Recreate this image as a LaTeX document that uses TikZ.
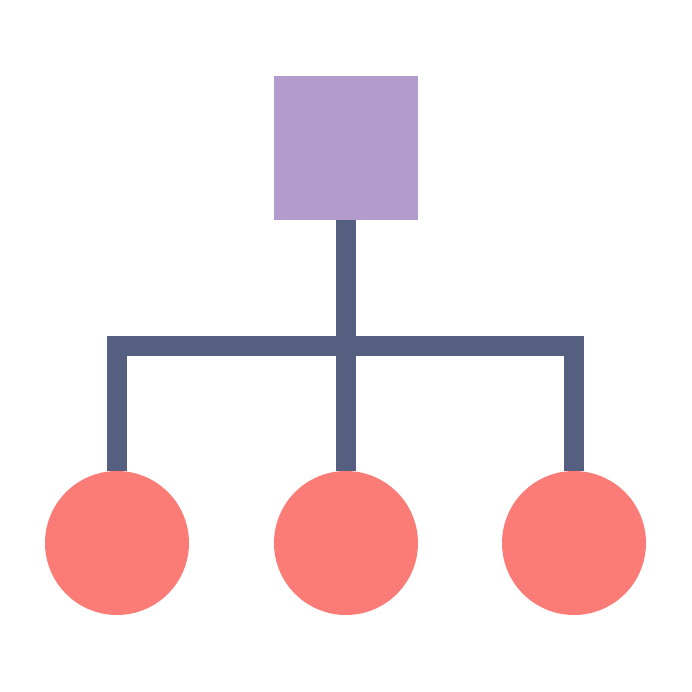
\documentclass[tikz,border=0pt]{standalone}
\definecolor{boxpurple}{HTML}{B39BCB}
\definecolor{linkslate}{HTML}{556080}
\definecolor{leafred}{HTML}{FB7B76}
\tikzset{
  rootbox/.style={rectangle, fill=boxpurple, minimum size=1.44cm, inner sep=0pt, outer sep=0pt},
  leaf/.style={circle, fill=leafred, minimum size=1.44cm, inner sep=0pt, outer sep=0pt},
  link/.style={draw=linkslate, line width=0.2cm}
}
\begin{document}
\begin{tikzpicture}
\useasboundingbox (0,0) rectangle (6.92,6.92);
\node[rootbox] (Root) at (3.46, 5.44) {};
\node[leaf] (LeftLeaf) at (1.17, 1.49) {};
\node[leaf] (MidLeaf) at (3.46, 1.49) {};
\node[leaf] (RightLeaf) at (5.74, 1.49) {};
\coordinate (Fork) at (3.46, 3.46);
\draw[link] (Root.south) -- (MidLeaf.north);
\draw[link] (LeftLeaf.north) |- (Fork) -| (RightLeaf.north);
\end{tikzpicture}
\end{document}
